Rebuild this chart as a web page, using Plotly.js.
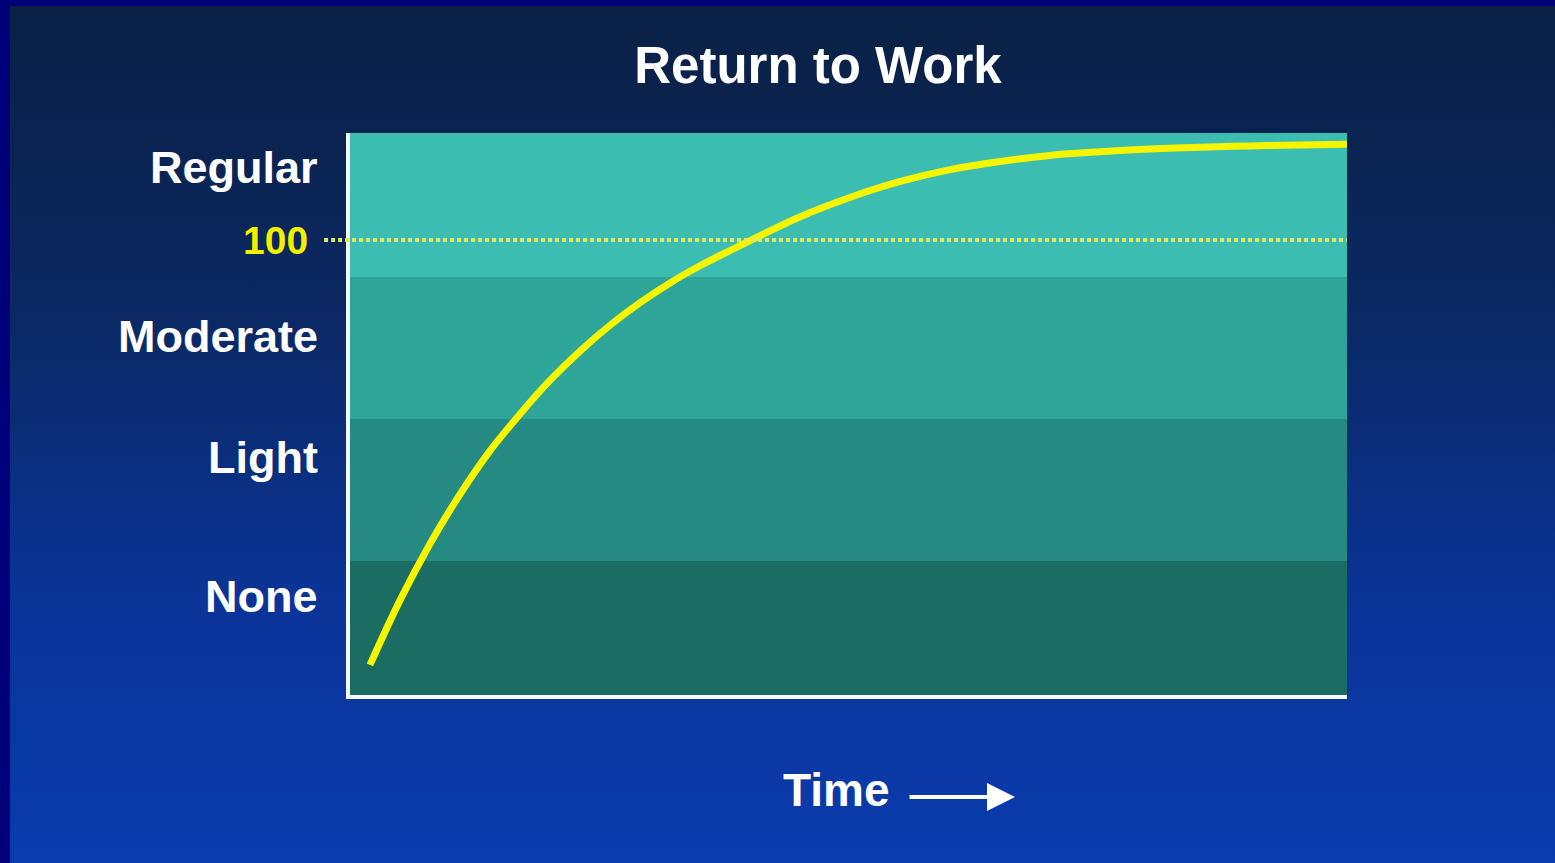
<!DOCTYPE html>
<html>
<head>
<meta charset="utf-8">
<script src="https://cdn.plot.ly/plotly-3.0.1.min.js"></script>
<style>
html,body{margin:0;padding:0;width:1555px;height:863px;overflow:hidden;}
body{background:#00007a;}
#frame{position:absolute;left:10px;top:6px;width:1545px;height:857px;
 background:linear-gradient(to bottom,#0a2044 0%,#0b2862 35%,#0a3498 70%,#0a3cae 100%);}
#chart{position:absolute;left:0;top:0;width:1555px;height:863px;}
</style>
</head>
<body>
<div id="frame"></div>
<div id="chart"></div>
<script>
// Data
const timeX = [2.0, 5.0, 8.0, 11.0, 14.0, 17.1, 20.1, 23.1, 26.1, 29.1, 32.1, 35.1, 38.1, 41.1, 45.1, 50.2, 55.2, 60.2, 65.2, 70.2, 75.2, 80.2, 85.3, 90.3, 95.3, 100];
const workY = [0.268, 0.721, 1.118, 1.466, 1.772, 2.039, 2.275, 2.480, 2.661, 2.819, 2.958, 3.079, 3.186, 3.289, 3.423, 3.562, 3.673, 3.756, 3.813, 3.856, 3.882, 3.901, 3.914, 3.923, 3.930, 3.934];
const levelNames = ["None", "Light", "Moderate", "Regular"];
const levelLabelY = [0.75, 1.73, 2.58, 3.77];
const bandEdges = [0.0, 1.0, 2.0, 3.0, 4.1];
const bandColors = ["#1b6c63", "#258b82", "#2ea599", "#3cbdb1"];
const refValue = 3.26;
const refLabel = "100";

const shapes = [];
for (let i = 0; i < levelNames.length; i++) {
  shapes.push({type:'rect', xref:'paper', yref:'y', x0:0, x1:1,
    y0:bandEdges[i], y1:bandEdges[i+1], fillcolor:bandColors[i], line:{width:0}, layer:'below'});
}
shapes.push({type:'line', xref:'paper', yref:'y', x0:-0.026, x1:1, y0:refValue, y1:refValue,
  line:{color:'#dfea66', width:4, dash:'4px,3px'}});

const annotations = levelNames.map((n,i)=>({
  text:'<b>'+n+'</b>', xref:'paper', yref:'y', x:0, y:levelLabelY[i], xanchor:'right', yanchor:'middle',
  xshift:-30, showarrow:false, font:{family:'Liberation Sans, Arial, sans-serif', size:45, color:'#ffffff'}
}));
annotations.push({text:'<b>'+refLabel+'</b>', xref:'paper', yref:'y', x:0, y:refValue, xanchor:'right', yanchor:'middle',
  xshift:-40, showarrow:false, font:{family:'Liberation Sans, Arial, sans-serif', size:39, color:'#f2f000'}});
annotations.push({text:'<b>Time</b>', xref:'paper', yref:'paper', x:0.4875, y:-0.169, xanchor:'center', yanchor:'middle',
  showarrow:false, font:{family:'Liberation Sans, Arial, sans-serif', size:46, color:'#ffffff'}});
annotations.push({text:'', xref:'paper', yref:'paper', x:0.667, y:-0.1815, ax:-107, ay:0, axref:'pixel', ayref:'pixel',
  showarrow:true, arrowhead:2, arrowsize:1.4, arrowwidth:4, arrowcolor:'#ffffff'});

const trace = {x:timeX, y:workY, type:'scatter', mode:'lines',
  line:{color:'#f5f500', width:7, shape:'spline', smoothing:1.0}, hoverinfo:'skip'};

const layout = {
  width:1555, height:863,
  paper_bgcolor:'rgba(0,0,0,0)', plot_bgcolor:'rgba(0,0,0,0)',
  margin:{l:350, r:208, t:133, b:168},
  title:{text:'<b>Return to Work</b>', x:0.526, xref:'container', y:0.925, yref:'container', yanchor:'middle',
    font:{family:'Liberation Sans, Arial, sans-serif', size:51, color:'#ffffff'}},
  xaxis:{range:[0,100], showgrid:false, zeroline:false, showticklabels:false, ticks:'',
    showline:true, linecolor:'#f4fbfb', linewidth:4},
  yaxis:{range:[0.056,4.014], showgrid:false, zeroline:false, showticklabels:false, ticks:'',
    showline:true, linecolor:'#f4fbfb', linewidth:4},
  shapes:shapes, annotations:annotations, showlegend:false
};
Plotly.newPlot('chart',[trace],layout,{displayModeBar:false, staticPlot:true});
</script>
</body>
</html>
